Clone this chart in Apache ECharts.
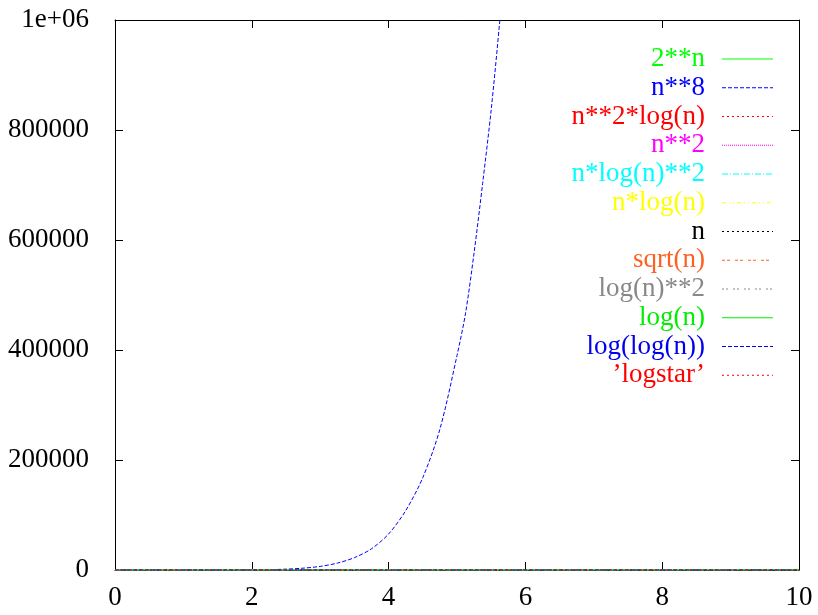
<!DOCTYPE html>
<html>
<head>
<meta charset="utf-8">
<script src="https://cdn.jsdelivr.net/npm/echarts@6/dist/echarts.min.js"></script>
<style>html,body{margin:0;padding:0;background:#fff}#c{width:818px;height:615px}</style>
</head>
<body>
<div id="c"></div>
<script>
// x positions (n)
const xInt = [0,1,2,3,4,5,6,7,8,9,10];
const xFine = [0,0.5,1,1.5,2,2.25,2.5,2.75,3,3.25,3.5,3.75,4,4.25,4.5,4.75,5,5.125,5.25,5.375,5.5,5.625,5.75];
// series values (all except n**8 lie on the x axis)
const pow2 = [1,2,4,8,16,32,64,128,256,512,1024];
const n8 = [0,4,1,25,256,650,1526,3330,6561,12500,22500,38600,65500,108000,168000,256000,390000,467000,577000,703000,837000,998000,1180000];
const n2logn = [0,0,3,10,22,40,65,95,133,178,230];
const n2 = [0,1,4,9,16,25,36,49,64,81,100];
const nlog2 = [0,0,1,4,8,13,19,26,35,43,53];
const nlogn = [0,0,1,3,6,8,11,14,17,20,23];
const nLin = [0,1,2,3,4,5,6,7,8,9,10];
const sqrtn = [0,1,1.4,1.7,2,2.2,2.4,2.6,2.8,3,3.2];
const log2sq = [0,0,0.5,1.2,1.9,2.6,3.2,3.8,4.3,4.8,5.3];
const logn = [0,0,0.7,1.1,1.4,1.6,1.8,1.9,2.1,2.2,2.3];
const loglogn = [0,0,-0.4,0.1,0.3,0.5,0.6,0.7,0.7,0.8,0.8];
const logstar = [0,1,2,2,3,3,3,3,3,3,3];
const seriesNames = ['2**n','n**8','n**2*log(n)','n**2','n*log(n)**2','n*log(n)','n','sqrt(n)','log(n)**2','log(n)','log(log(n))','\u2019logstar\u2019'];

const styles = [
  {color:'#00ff00', dash:null, x:xInt, y:pow2},
  {color:'#0000ff', dash:[4,2], x:xFine, y:n8},
  {color:'#ff0000', dash:[2,3], x:xInt, y:n2logn},
  {color:'#ff00ff', dash:[1,1], x:xInt, y:n2},
  {color:'#00ffff', dash:[6,2,1,2], x:xInt, y:nlog2},
  {color:'#ffff00', dash:[4,3,1,3,1,3], x:xInt, y:nlogn},
  {color:'#000000', dash:[2,3], x:xInt, y:nLin},
  {color:'#ff6020', dash:[3,2,3,5], x:xInt, y:sqrtn},
  {color:'#888888', dash:[2,2,2,5], x:xInt, y:log2sq},
  {color:'#00ee00', dash:null, x:xInt, y:logn},
  {color:'#0000ee', dash:[4,2], x:xInt, y:loglogn},
  {color:'#ff0000', dash:[2,3], x:xInt, y:logstar}
];

const font = 'Liberation Serif';
const fs = 27;
const legendGraphics = [];
seriesNames.forEach((name,i)=>{
  const yc = 59 + 28.75*i;
  legendGraphics.push({type:'text', x:705, y:yc, silent:true,
    style:{text:name, align:'right', verticalAlign:'middle', fill:styles[i].color, font: fs+'px "'+font+'"'}});
  legendGraphics.push({type:'line', silent:true,
    shape:{x1:722,y1:yc,x2:773,y2:yc},
    style:{stroke:styles[i].color, lineWidth:1, lineDash:styles[i].dash}});
});

const tickStyle = {show:true,inside:true,length:8,lineStyle:{color:'#000',width:1}};
const lineStyleAx = {show:true,onZero:false,lineStyle:{color:'#000',width:1}};
const chart = echarts.init(document.getElementById('c'));
chart.setOption({
  animation:false,
  backgroundColor:'#fff',
  grid:{left:115,right:19,top:20,bottom:45,containLabel:false},
  xAxis:[
    {type:'value', min:0, max:10, interval:2, position:'bottom',
     axisLine:lineStyleAx, axisTick:tickStyle,
     axisLabel:{color:'#000',fontFamily:font,fontSize:fs,margin:14},
     splitLine:{show:false}},
    {type:'value', min:0, max:10, interval:2, position:'top',
     axisLine:lineStyleAx, axisTick:tickStyle,
     axisLabel:{show:false}, splitLine:{show:false}}
  ],
  yAxis:[
    {type:'value', min:0, max:1000000, interval:200000, position:'left',
     axisLine:lineStyleAx, axisTick:tickStyle,
     axisLabel:{color:'#000',fontFamily:font,fontSize:fs,margin:26,
       formatter:v=> v===1000000 ? '1e+06' : String(v)},
     splitLine:{show:false}},
    {type:'value', min:0, max:1000000, interval:200000, position:'right',
     axisLine:lineStyleAx, axisTick:tickStyle,
     axisLabel:{show:false}, splitLine:{show:false}}
  ],
  graphic: legendGraphics,
  series: seriesNames.map((name,i)=>({
    name:name, type:'line', xAxisIndex:0, yAxisIndex:0,
    data:styles[i].x.map((xv,k)=>[xv,styles[i].y[k]]),
    smooth: i===1 ? 0.3 : false,
    showSymbol:false, symbol:'none', clip:true,
    lineStyle:{color:styles[i].color,width:1,type:styles[i].dash||'solid'},
    itemStyle:{color:styles[i].color}
  }))
});
</script>
</body>
</html>
